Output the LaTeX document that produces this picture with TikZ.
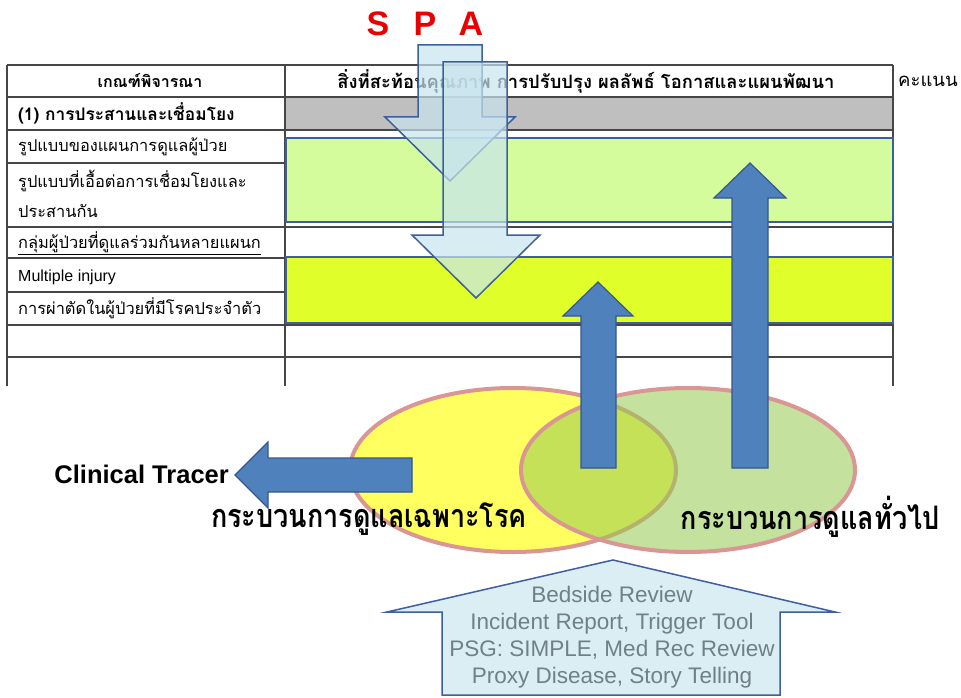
\documentclass[tikz,border=0pt]{standalone}
\usepackage{fontspec}
\setmainfont{Liberation Sans}
\newfontfamily\thaifont[Script=Thai]{Loma}
\usepackage{tikz}
\usetikzlibrary{calc}
\definecolor{tableline}{RGB}{70,70,70}
\definecolor{rowgray}{RGB}{191,191,191}
\definecolor{palegreen}{RGB}{212,252,156}
\definecolor{limeyellow}{RGB}{224,255,42}
\definecolor{boxblue}{RGB}{63,95,155}
\definecolor{arrowblue}{RGB}{79,129,189}
\definecolor{paleblue}{RGB}{200,228,238}
\definecolor{housefill}{RGB}{218,238,244}
\definecolor{venyellow}{RGB}{255,255,95}
\definecolor{vengreen}{RGB}{151,203,82}
\definecolor{venrim}{RGB}{217,150,148}
\definecolor{housetext}{RGB}{112,128,132}
\definecolor{spared}{RGB}{235,0,0}
\tikzset{blockbox/.style={draw=boxblue,line width=1.5pt},
  downarrow/.style={draw=boxblue,line width=1.5pt,fill=paleblue,fill opacity=0.7},
  uparrow/.style={draw=boxblue!90!black,line width=1.2pt,fill=arrowblue}}

\begin{document}
\begin{tikzpicture}[x=1pt, y=-1pt]

\tikzset{rowtext/.style={font=\thaifont\fontsize{16.4}{19}\selectfont,anchor=west,inner sep=0pt},
headtext/.style={font=\thaifont\bfseries\fontsize{16}{19}\selectfont,inner sep=0pt},
spaletter/.style={font=\bfseries\fontsize{34}{36}\selectfont,text=spared,inner sep=0pt},
venlabel/.style={font=\thaifont\bfseries\fontsize{27}{30}\selectfont,inner sep=0pt}}

\useasboundingbox (0,0) rectangle (961,698);
\fill[white] (0,0) rectangle (961,698);

% Table
\fill[rowgray] (285,97) rectangle (893,130);
\foreach \y in {65,97,130,227,258,325,357} \draw[tableline,line width=1.2pt] (7,\y) -- (893,\y);
\foreach \y in {163,292} \draw[tableline,line width=1.2pt] (7,\y) -- (285,\y); % rows of column 1 only
\foreach \x in {7,285,893} \draw[tableline,line width=1.2pt] (\x,65) -- (\x,386);
\draw[blockbox,fill=palegreen] (286,138) rectangle (893,222);
\draw[blockbox,fill=limeyellow] (286,257) rectangle (893,323);

% Table texts
\node[headtext] (crithead) at (150,81) {เกณฑ์พิจารณา};
\node[headtext,font=\thaifont\bfseries\fontsize{18.4}{21}\selectfont] (reflhead) at (586,81) {สิ่งที่สะท้อนคุณภาพ การปรับปรุง ผลลัพธ์ โอกาสและแผนพัฒนา};
\node[rowtext,font=\thaifont\fontsize{18.5}{21}\selectfont] (score) at (898,81) {คะแนน};
\node[rowtext,font=\thaifont\bfseries\fontsize{17.3}{20}\selectfont] (row1) at (18,113) {(1) การประสานและเชื่อมโยง};
\node[rowtext] (row2) at (18,147) {รูปแบบของแผนการดูแลผู้ป่วย};
\node[rowtext] (row3) at (18,181) {รูปแบบที่เอื้อต่อการเชื่อมโยงและ};
\node[rowtext] (row3b) at (18,211) {ประสานกัน};
\node[rowtext] (row4) at (18,243) {\underline{กลุ่มผู้ป่วยที่ดูแลร่วมกันหลายแผนก}};
\node[rowtext,font=\fontsize{16}{18}\selectfont] (row5) at (18,277) {Multiple injury};
\node[rowtext] (row6) at (18,308) {การผ่าตัดในผู้ป่วยที่มีโรคประจำตัว};

% SPA arrows
\draw[downarrow] (418,45) -- (482,45) -- (482,117) -- (515,117) -- (450,181) -- (385,117) -- (418,117) -- cycle;
\draw[downarrow] (443,62) -- (507,62) -- (507,235) -- (540,235) -- (476,298) -- (412,235) -- (443,235) -- cycle;
\node[spaletter] (letS) at (378,24) {S};
\node[spaletter] (letP) at (425,24) {P};
\node[spaletter] (letA) at (471,24) {A};

% Venn
\draw[venrim,line width=4pt,fill=venyellow] (513,470) ellipse [x radius=163, y radius=82];
\fill[vengreen,fill opacity=0.56] (688,470) ellipse [x radius=167, y radius=82];
\draw[venrim,line width=4pt] (688,470) ellipse [x radius=167, y radius=82];

% Up arrows and tracer arrow
\draw[uparrow] (581,468) -- (581,316) -- (563,316) -- (598,282) -- (633,316) -- (616,316) -- (616,468) -- cycle;
\draw[uparrow] (732,468) -- (732,198) -- (714,198) -- (750,163) -- (786,198) -- (768,198) -- (768,468) -- cycle;
\draw[uparrow] (412,458) -- (412,492) -- (268,492) -- (268,508) -- (235,475) -- (268,442) -- (268,458) -- cycle;
\node[font=\bfseries\fontsize{25.5}{28}\selectfont,anchor=east,inner sep=0pt] (tracer) at (229,474) {Clinical Tracer};

\node[venlabel] (specific) at (369,519) {\scalebox{1}[1.2]{กระบวนการดูแลเฉพาะโรค}};
\node[venlabel] (general) at (810,517) {\scalebox{1}[1.2]{กระบวนการดูแลทั่วไป}};

% Tools arrow
\draw[blockbox,fill=housefill] (613,560) -- (835,612) -- (780,612) -- (780,695) -- (442,695) -- (442,612) -- (387,612) -- cycle;
\node[text=housetext,font=\fontsize{22.5}{27}\selectfont,align=center,inner sep=0pt] (tools) at (612,637)
  {Bedside Review\\Incident Report, Trigger Tool\\PSG: SIMPLE, Med Rec Review\\Proxy Disease, Story Telling};

\end{tikzpicture}
\end{document}
